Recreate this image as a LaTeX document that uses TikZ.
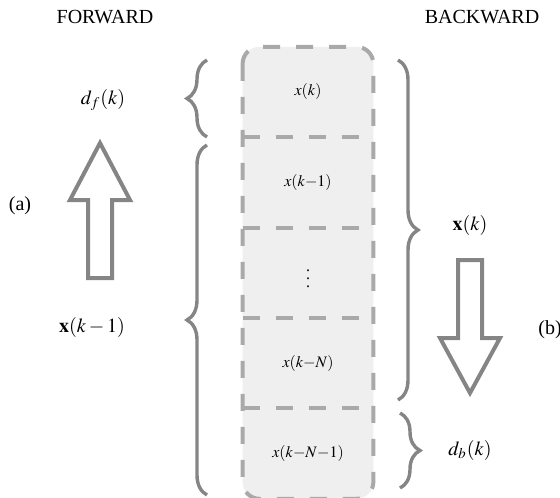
\documentclass[tikz,border=0pt]{standalone}
\usepackage{mathptmx}
\usepackage{fontspec}
\setmainfont{Liberation Serif}
\usetikzlibrary{positioning, decorations.pathreplacing, backgrounds}
\definecolor{boxgray}{HTML}{A9A9A9}
\definecolor{cellfill}{HTML}{EFEFEF}
\definecolor{markgray}{HTML}{858585}

\begin{document}
\begin{tikzpicture}[
x=0.5pt, y=-0.5pt,
node distance=0mm,
cell/.style={minimum width=65pt, minimum height=44.8pt, inner sep=0pt, font=\footnotesize},
divider/.style={draw=boxgray, line width=2pt, dash pattern=on 8.5pt off 8pt},
curly/.style={draw=markgray, line width=1.7pt, decorate, decoration={brace, amplitude=10pt}},
hollow/.style={draw=markgray, line width=2pt, line join=miter},
tag/.style={inner sep=0pt}
]
\useasboundingbox (0,0) rectangle (560,497);

% register cells
\node[cell] (c0) at (308,92) {$x(k)$};
\node[cell, below=of c0] (c1) {$x(k{-}1)$};
\node[cell, below=of c1] (c2) {$\vdots$};
\node[cell, below=of c2] (c3) {$x(k{-}N)$};
\node[cell, below=of c3] (c4) {$x(k{-}N{-}1)$};

\begin{scope}[on background layer]
\draw[divider, fill=cellfill, rounded corners=8.5pt] (c0.north west) rectangle (c4.south east);
\end{scope}

\foreach \c in {c0, c1, c2, c3}
  \draw[divider] (\c.south west) -- (\c.south east);

% braces
\draw[curly] (207,137) -- (207,60);
\draw[curly] (207,495) -- (207,145);
\draw[curly] (398,60) -- (398,400);
\draw[curly] (400,413) -- (400,488);

% arrows
\draw[hollow] (88,278) -- (88,200) -- (70,200) -- (100,143) -- (130,200) -- (112,200) -- (112,278) -- cycle;
\draw[hollow] (458,260) -- (458,338) -- (440,338) -- (470,393) -- (500,338) -- (482,338) -- (482,260) -- cycle;

% labels
\node[tag] (fwd) at (105,17) {FORWARD};
\node[tag] (bwd) at (482,17) {BACKWARD};
\node[tag] (df) at (103,100) {$d_f(k)$};
\node[tag] (xprev) at (92,327) {$\mathbf{x}(k-1)$};
\node[tag] (xcur) at (470,225) {$\mathbf{x}(k)$};
\node[tag] (db) at (470,450) {$d_b(k)$};
\node[tag] (a) at (20,206) {(a)};
\node[tag] (b) at (550,330) {(b)};

\end{tikzpicture}
\end{document}
